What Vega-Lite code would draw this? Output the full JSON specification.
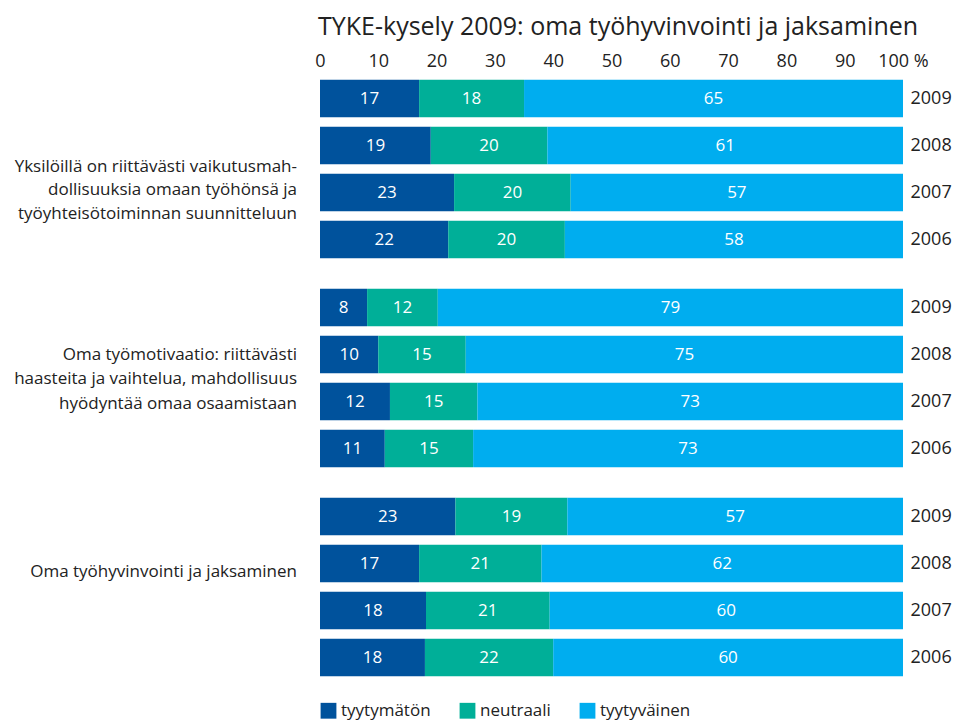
{
  "$schema": "https://vega.github.io/schema/vega-lite/v6.json",
  "background": "white",
  "padding": {"left": 14, "top": 15, "right": 2, "bottom": 4},
  "config": {"font": "Open Sans", "view": {"stroke": null}},
  "title": {"text": "TYKE-kysely 2009: oma työhyvinvointi ja jaksaminen", "fontSize": 25, "fontWeight": "normal", "color": "#222222", "anchor": "start", "frame": "group", "offset": 12, "dx": -2},
  "data": {"values": [
    {"ryhma": "Yksilöillä on riittävästi vaikutusmah-|dollisuuksia omaan työhönsä ja|työyhteisötoiminnan suunnitteluun", "vuosi": "2009", "luokka": "tyytymätön", "j": 1, "arvo": 17},
    {"ryhma": "Yksilöillä on riittävästi vaikutusmah-|dollisuuksia omaan työhönsä ja|työyhteisötoiminnan suunnitteluun", "vuosi": "2009", "luokka": "neutraali", "j": 2, "arvo": 18},
    {"ryhma": "Yksilöillä on riittävästi vaikutusmah-|dollisuuksia omaan työhönsä ja|työyhteisötoiminnan suunnitteluun", "vuosi": "2009", "luokka": "tyytyväinen", "j": 3, "arvo": 65},
    {"ryhma": "Yksilöillä on riittävästi vaikutusmah-|dollisuuksia omaan työhönsä ja|työyhteisötoiminnan suunnitteluun", "vuosi": "2008", "luokka": "tyytymätön", "j": 1, "arvo": 19},
    {"ryhma": "Yksilöillä on riittävästi vaikutusmah-|dollisuuksia omaan työhönsä ja|työyhteisötoiminnan suunnitteluun", "vuosi": "2008", "luokka": "neutraali", "j": 2, "arvo": 20},
    {"ryhma": "Yksilöillä on riittävästi vaikutusmah-|dollisuuksia omaan työhönsä ja|työyhteisötoiminnan suunnitteluun", "vuosi": "2008", "luokka": "tyytyväinen", "j": 3, "arvo": 61},
    {"ryhma": "Yksilöillä on riittävästi vaikutusmah-|dollisuuksia omaan työhönsä ja|työyhteisötoiminnan suunnitteluun", "vuosi": "2007", "luokka": "tyytymätön", "j": 1, "arvo": 23},
    {"ryhma": "Yksilöillä on riittävästi vaikutusmah-|dollisuuksia omaan työhönsä ja|työyhteisötoiminnan suunnitteluun", "vuosi": "2007", "luokka": "neutraali", "j": 2, "arvo": 20},
    {"ryhma": "Yksilöillä on riittävästi vaikutusmah-|dollisuuksia omaan työhönsä ja|työyhteisötoiminnan suunnitteluun", "vuosi": "2007", "luokka": "tyytyväinen", "j": 3, "arvo": 57},
    {"ryhma": "Yksilöillä on riittävästi vaikutusmah-|dollisuuksia omaan työhönsä ja|työyhteisötoiminnan suunnitteluun", "vuosi": "2006", "luokka": "tyytymätön", "j": 1, "arvo": 22},
    {"ryhma": "Yksilöillä on riittävästi vaikutusmah-|dollisuuksia omaan työhönsä ja|työyhteisötoiminnan suunnitteluun", "vuosi": "2006", "luokka": "neutraali", "j": 2, "arvo": 20},
    {"ryhma": "Yksilöillä on riittävästi vaikutusmah-|dollisuuksia omaan työhönsä ja|työyhteisötoiminnan suunnitteluun", "vuosi": "2006", "luokka": "tyytyväinen", "j": 3, "arvo": 58},
    {"ryhma": "Oma työmotivaatio: riittävästi|haasteita ja vaihtelua, mahdollisuus|hyödyntää omaa osaamistaan", "vuosi": "2009", "luokka": "tyytymätön", "j": 1, "arvo": 8},
    {"ryhma": "Oma työmotivaatio: riittävästi|haasteita ja vaihtelua, mahdollisuus|hyödyntää omaa osaamistaan", "vuosi": "2009", "luokka": "neutraali", "j": 2, "arvo": 12},
    {"ryhma": "Oma työmotivaatio: riittävästi|haasteita ja vaihtelua, mahdollisuus|hyödyntää omaa osaamistaan", "vuosi": "2009", "luokka": "tyytyväinen", "j": 3, "arvo": 79},
    {"ryhma": "Oma työmotivaatio: riittävästi|haasteita ja vaihtelua, mahdollisuus|hyödyntää omaa osaamistaan", "vuosi": "2008", "luokka": "tyytymätön", "j": 1, "arvo": 10},
    {"ryhma": "Oma työmotivaatio: riittävästi|haasteita ja vaihtelua, mahdollisuus|hyödyntää omaa osaamistaan", "vuosi": "2008", "luokka": "neutraali", "j": 2, "arvo": 15},
    {"ryhma": "Oma työmotivaatio: riittävästi|haasteita ja vaihtelua, mahdollisuus|hyödyntää omaa osaamistaan", "vuosi": "2008", "luokka": "tyytyväinen", "j": 3, "arvo": 75},
    {"ryhma": "Oma työmotivaatio: riittävästi|haasteita ja vaihtelua, mahdollisuus|hyödyntää omaa osaamistaan", "vuosi": "2007", "luokka": "tyytymätön", "j": 1, "arvo": 12},
    {"ryhma": "Oma työmotivaatio: riittävästi|haasteita ja vaihtelua, mahdollisuus|hyödyntää omaa osaamistaan", "vuosi": "2007", "luokka": "neutraali", "j": 2, "arvo": 15},
    {"ryhma": "Oma työmotivaatio: riittävästi|haasteita ja vaihtelua, mahdollisuus|hyödyntää omaa osaamistaan", "vuosi": "2007", "luokka": "tyytyväinen", "j": 3, "arvo": 73},
    {"ryhma": "Oma työmotivaatio: riittävästi|haasteita ja vaihtelua, mahdollisuus|hyödyntää omaa osaamistaan", "vuosi": "2006", "luokka": "tyytymätön", "j": 1, "arvo": 11},
    {"ryhma": "Oma työmotivaatio: riittävästi|haasteita ja vaihtelua, mahdollisuus|hyödyntää omaa osaamistaan", "vuosi": "2006", "luokka": "neutraali", "j": 2, "arvo": 15},
    {"ryhma": "Oma työmotivaatio: riittävästi|haasteita ja vaihtelua, mahdollisuus|hyödyntää omaa osaamistaan", "vuosi": "2006", "luokka": "tyytyväinen", "j": 3, "arvo": 73},
    {"ryhma": "Oma työhyvinvointi ja jaksaminen", "vuosi": "2009", "luokka": "tyytymätön", "j": 1, "arvo": 23},
    {"ryhma": "Oma työhyvinvointi ja jaksaminen", "vuosi": "2009", "luokka": "neutraali", "j": 2, "arvo": 19},
    {"ryhma": "Oma työhyvinvointi ja jaksaminen", "vuosi": "2009", "luokka": "tyytyväinen", "j": 3, "arvo": 57},
    {"ryhma": "Oma työhyvinvointi ja jaksaminen", "vuosi": "2008", "luokka": "tyytymätön", "j": 1, "arvo": 17},
    {"ryhma": "Oma työhyvinvointi ja jaksaminen", "vuosi": "2008", "luokka": "neutraali", "j": 2, "arvo": 21},
    {"ryhma": "Oma työhyvinvointi ja jaksaminen", "vuosi": "2008", "luokka": "tyytyväinen", "j": 3, "arvo": 62},
    {"ryhma": "Oma työhyvinvointi ja jaksaminen", "vuosi": "2007", "luokka": "tyytymätön", "j": 1, "arvo": 18},
    {"ryhma": "Oma työhyvinvointi ja jaksaminen", "vuosi": "2007", "luokka": "neutraali", "j": 2, "arvo": 21},
    {"ryhma": "Oma työhyvinvointi ja jaksaminen", "vuosi": "2007", "luokka": "tyytyväinen", "j": 3, "arvo": 60},
    {"ryhma": "Oma työhyvinvointi ja jaksaminen", "vuosi": "2006", "luokka": "tyytymätön", "j": 1, "arvo": 18},
    {"ryhma": "Oma työhyvinvointi ja jaksaminen", "vuosi": "2006", "luokka": "neutraali", "j": 2, "arvo": 22},
    {"ryhma": "Oma työhyvinvointi ja jaksaminen", "vuosi": "2006", "luokka": "tyytyväinen", "j": 3, "arvo": 60}
  ]},
  "transform": [
    {"stack": "arvo", "groupby": ["ryhma", "vuosi"], "sort": [{"field": "j", "order": "ascending"}], "offset": "normalize", "as": ["x0", "x1"]}
  ],
  "facet": {
    "row": {
      "field": "ryhma", "type": "nominal", "title": null,
      "sort": ["Yksilöillä on riittävästi vaikutusmah-|dollisuuksia omaan työhönsä ja|työyhteisötoiminnan suunnitteluun", "Oma työmotivaatio: riittävästi|haasteita ja vaihtelua, mahdollisuus|hyödyntää omaa osaamistaan", "Oma työhyvinvointi ja jaksaminen"],
      "header": {"labels": false}
    }
  },
  "spacing": 21,
  "spec": {
    "width": 583,
    "height": {"step": 47},
    "layer": [
      {
        "mark": {"type": "bar"},
        "encoding": {
          "x": {"field": "x0", "type": "quantitative", "scale": {"domain": [0, 1], "nice": false},
            "axis": {"orient": "top", "title": null, "values": [0, 0.1, 0.2, 0.3, 0.4, 0.5, 0.6, 0.7, 0.8, 0.9, 1],
              "labelExpr": "datum.value == 1 ? '100 %' : format(datum.value * 100, 'd')",
              "grid": false, "ticks": false, "domain": false, "labelFontSize": 18, "labelPadding": 5,
              "labelFlush": false, "labelOverlap": false, "labelColor": "#222222"}},
          "x2": {"field": "x1"},
          "y": {"field": "vuosi", "type": "ordinal", "sort": "descending", "scale": {"paddingInner": 0.2, "paddingOuter": 0.1},
            "axis": {"orient": "right", "title": null, "ticks": false, "domain": false, "labelFontSize": 18, "labelPadding": 7, "labelColor": "#222222"}},
          "color": {"field": "luokka", "type": "nominal",
            "scale": {"domain": ["tyytymätön", "neutraali", "tyytyväinen"], "range": ["#00529c", "#00af98", "#00adef"]},
            "legend": {"orient": "bottom", "direction": "horizontal", "title": null, "symbolType": "square", "symbolSize": 250,
              "symbolStrokeWidth": 0, "symbolOpacity": 1, "labelFontSize": 17, "labelColor": "#222222", "columnPadding": 28, "offset": 21}}
        }
      },
      {
        "transform": [{"fold": ["x0", "x1"], "as": ["reuna", "paikka"]}],
        "mark": {"type": "text", "color": "white", "fontSize": 17, "baseline": "middle", "align": "center"},
        "encoding": {
          "x": {"aggregate": "mean", "field": "paikka", "type": "quantitative"},
          "y": {"field": "vuosi", "type": "ordinal", "sort": "descending"},
          "detail": {"field": "j", "type": "nominal"},
          "text": {"field": "arvo", "type": "quantitative"}
        }
      },
      {
        "transform": [{"filter": "datum.j == 1 && datum.vuosi == '2008' && indexof(datum.ryhma, 'Yksil') == 0"}],
        "mark": {"type": "text", "color": "#222222", "fontSize": 17, "baseline": "middle", "align": "right", "lineBreak": "|", "lineHeight": 23.5, "dx": -23, "dy": 21},
        "encoding": {
          "x": {"datum": 0},
          "y": {"field": "vuosi", "type": "ordinal", "sort": "descending"},
          "text": {"field": "ryhma", "type": "nominal"}
        }
      },
      {
        "transform": [{"filter": "datum.j == 1 && datum.vuosi == '2008' && indexof(datum.ryhma, 'Oma työmotivaatio') == 0"}],
        "mark": {"type": "text", "color": "#222222", "fontSize": 17, "baseline": "middle", "align": "right", "lineBreak": "|", "lineHeight": 24.5, "dx": -23, "dy": 0},
        "encoding": {
          "x": {"datum": 0},
          "y": {"field": "vuosi", "type": "ordinal", "sort": "descending"},
          "text": {"field": "ryhma", "type": "nominal"}
        }
      },
      {
        "transform": [{"filter": "datum.j == 1 && datum.vuosi == '2008' && indexof(datum.ryhma, 'Oma työhyvinvointi') == 0"}],
        "mark": {"type": "text", "color": "#222222", "fontSize": 17, "baseline": "middle", "align": "right", "dx": -23, "dy": 8},
        "encoding": {
          "x": {"datum": 0},
          "y": {"field": "vuosi", "type": "ordinal", "sort": "descending"},
          "text": {"field": "ryhma", "type": "nominal"}
        }
      }
    ]
  }
}
